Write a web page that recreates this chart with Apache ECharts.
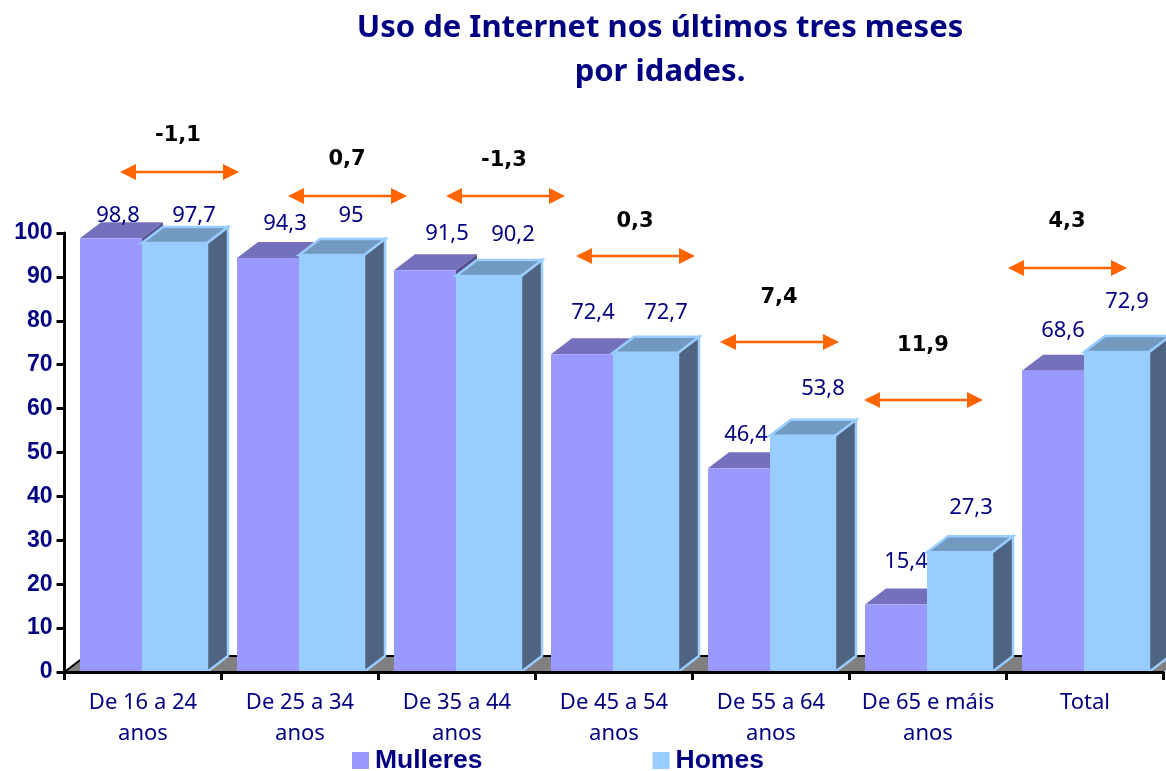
<!DOCTYPE html>
<html><head><meta charset="utf-8">
<style>html,body{margin:0;padding:0;background:#fff}#c{width:1166px;height:771px}</style>
<script src="https://cdn.jsdelivr.net/npm/echarts@6/dist/echarts.min.js"></script>
</head><body><div id="c"></div>
<script>
const categories = ['De 16 a 24\nanos','De 25 a 34\nanos','De 35 a 44\nanos','De 45 a 54\nanos','De 55 a 64\nanos','De 65 e máis\nanos','Total'];
const mulleres = [98.8,94.3,91.5,72.4,46.4,15.4,68.6];
const homes = [97.7,95,90.2,72.7,53.8,27.3,72.9];
const deltas = ['-1,1','0,7','-1,3','0,3','7,4','11,9','4,3'];

// Annotation placement (pixels)
const mLabelX = [118,285,447,593,746,906,1063];
const mLabelY = [216,224,234,313,435,562,331];
const hLabelX = [194,351,513,666,823,971,1127];
const hLabelY = [216,216,235,313,389,508,302];
const arrowCx = [179.5,347.5,505.5,635.5,779.5,923.5,1067.5];
const arrowY = [172,196,196,256,342,400,268];
const deltaX = [178,347,504,635,779,923,1067];
const deltaY = [136,160,161,222,298,346,222];

const DX = 21, DY = 16;
const NAVY = '#000080';
const FONT = '"Noto Sans", sans-serif';
const fmt = v => String(v).replace('.', ',');

function bar3d(colors, x0Off, x1Off, lx, ly, outline) {
  return function (params, api) {
    const i = api.value(0);
    const c = api.coord([i, api.value(1)]);
    const b = api.coord([i, 0]);
    const band = api.size([1, 0])[0];
    const left = c[0] - band / 2;
    const x0 = left + x0Off, x1 = left + x1Off, t = c[1], y0 = b[1];
    const st = outline ? {stroke: colors.front, lineWidth: 2.5, lineJoin: 'miter'} : {};
    return {type: 'group', children: [
      {type: 'polygon', shape: {points: [[x1,y0],[x1+DX,y0-DY],[x1+DX,t-DY],[x1,t]]}, style: {fill: colors.side, ...st}},
      {type: 'polygon', shape: {points: [[x0,t],[x0+DX,t-DY],[x1+DX,t-DY],[x1,t]]}, style: {fill: colors.top, ...st}},
      {type: 'rect', shape: {x: x0, y: t, width: x1-x0, height: y0-t}, style: {fill: colors.front}},
      {type: 'text', style: {text: fmt(api.value(1)), x: lx[i], y: ly[i], align: 'center', verticalAlign: 'middle',
        fill: NAVY, font: '22px ' + FONT}, z2: 50}
    ]};
  };
}
function floorItem(params, api) {
  const cs = params.coordSys;
  const x0 = cs.x, x1 = cs.x + cs.width, y0 = cs.y + cs.height;
  return {type: 'group', children: [
    {type: 'polygon', shape: {points: [[x0,y0],[x0+DX,y0-DY],[x1+DX,y0-DY],[x1,y0]]}, style: {fill: '#808080'}},
    {type: 'polyline', shape: {points: [[x0,y0],[x0+DX,y0-DY],[x1+DX,y0-DY]]}, style: {stroke: '#000', lineWidth: 2, fill: null}}
  ]};
}
function arrowGraphic(cx, y) {
  const h = 59.5, L = 16, W = 8, col = '#ff6600';
  return {type: 'group', z: 60, children: [
    {type: 'line', shape: {x1: cx-h+L, y1: y, x2: cx+h-L, y2: y}, style: {stroke: col, lineWidth: 2.5}},
    {type: 'polygon', shape: {points: [[cx-h,y],[cx-h+L,y-W],[cx-h+L,y+W]]}, style: {fill: col}},
    {type: 'polygon', shape: {points: [[cx+h,y],[cx+h-L,y-W],[cx+h-L,y+W]]}, style: {fill: col}}
  ]};
}
const graphics = [];
arrowCx.forEach((cx, i) => graphics.push(arrowGraphic(cx, arrowY[i])));
deltas.forEach((d, i) => graphics.push({type: 'text', z: 60, style: {text: d, x: deltaX[i], y: deltaY[i],
  align: 'center', verticalAlign: 'middle', fill: '#000', font: 'bold 21px "DejaVu Sans", sans-serif'}}));

const chart = echarts.init(document.getElementById('c'), null, {renderer: 'canvas'});
chart.setOption({
  animation: false,
  backgroundColor: '#fff',
  title: {text: 'Uso de Internet nos últimos tres meses\npor idades.', left: 655, top: 1, textAlign: 'center',
    textStyle: {color: NAVY, fontFamily: FONT, fontWeight: 'bold', fontSize: 31, lineHeight: 44}},
  legend: {data: ['Mulleres','Homes'], left: 347, top: 742, itemWidth: 17, itemHeight: 17, itemGap: 170, icon: 'rect',
    textStyle: {color: NAVY, fontFamily: '"Liberation Sans", Arial', fontWeight: 'bold', fontSize: 26.5, padding: [0,0,0,1]}},
  grid: {left: 64.5, top: 233, width: 1099, height: 439, containLabel: false},
  xAxis: {type: 'category', data: categories, z: 20,
    axisLine: {lineStyle: {color: '#000', width: 3}},
    axisTick: {show: true, length: 8, lineStyle: {color: '#000', width: 3}},
    axisLabel: {color: NAVY, fontFamily: FONT, fontSize: 22, lineHeight: 31, margin: 15, interval: 0},
    splitLine: {show: false}},
  yAxis: {type: 'value', min: 0, max: 100, interval: 10, z: 20,
    axisLine: {show: true, lineStyle: {color: '#000', width: 3}},
    axisTick: {show: true, length: 8, lineStyle: {color: '#000', width: 3}},
    axisLabel: {color: NAVY, fontFamily: '"Liberation Sans", Arial', fontWeight: 'bold', fontSize: 23, margin: 12},
    splitLine: {show: false}},
  graphic: graphics,
  series: [
    {type: 'custom', name: 'Floor', z: 1, silent: true, data: [[0]], renderItem: floorItem, encode: {x: 0}, clip: false},
    {type: 'custom', name: 'Mulleres', z: 2, itemStyle: {color: '#9999ff'}, encode: {x: 0, y: 1}, clip: false,
      data: mulleres.map((v, i) => [i, v]),
      renderItem: bar3d({front: '#9999ff', top: '#7470bb', side: '#55508f'}, 15.5, 77.5, mLabelX, mLabelY, false)},
    {type: 'custom', name: 'Homes', z: 3, itemStyle: {color: '#99ccff'}, encode: {x: 0, y: 1}, clip: false,
      data: homes.map((v, i) => [i, v]),
      renderItem: bar3d({front: '#99ccff', top: '#7299bf', side: '#4f6480'}, 77.5, 142.5, hLabelX, hLabelY, true)}
  ]
});
</script></body></html>
